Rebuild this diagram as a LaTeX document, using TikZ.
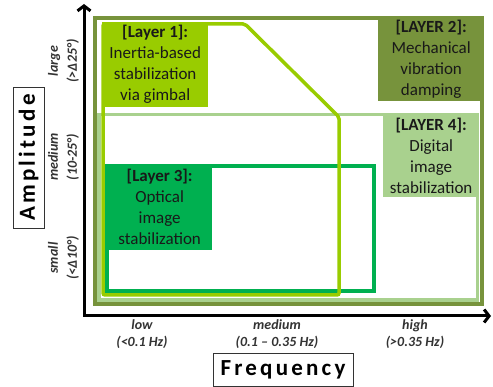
\documentclass[tikz,border=0pt]{standalone}
\usepackage{fontspec}
\setmainfont{Carlito}
\usetikzlibrary{arrows.meta}
\definecolor{lone}{HTML}{99CC00}
\definecolor{ltwo}{HTML}{77933C}
\definecolor{lthree}{HTML}{00B050}
\definecolor{lfour}{HTML}{A9D18E}
\begin{document}
\begin{tikzpicture}[x=1pt,y=-1pt,
  lbl/.style={anchor=north west, inner sep=0pt, align=center, font=\fontsize{17}{21}\selectfont, text=black!90},
  outl/.style={line width=3.5pt, line join=miter},
  axlbl/.style={align=center, inner sep=0pt, font=\bfseries\itshape\fontsize{14}{17}\selectfont, text=black!80},
  vlbl/.style={axlbl, rotate=90, font=\bfseries\itshape\fontsize{14}{19}\selectfont},
  titlebox/.style={draw=black!80, line width=0.8pt, fill=white, inner sep=0pt, font=\bfseries\fontsize{23}{26}\selectfont, text=black}]
\useasboundingbox (0,0) rectangle (493,387);
% outlines
\draw[outl, ltwo] (95,18) rectangle (482,304);
\draw[outl, lfour] (99,114.5) rectangle (477.5,300);
\draw[outl, lthree] (107,166) rectangle (374,291);
\draw[outl, lone, rounded corners=2pt] (103,24) -- (245,24) -- (339,117) -- (339,295) -- (103,295) -- cycle;
% label boxes
\node[lbl, fill=lone, minimum width=106pt, minimum height=85pt] (l1) at (102,22)
  {\textbf{[Layer 1]:}\\Inertia-based\\stabilization\\via gimbal};
\node[lbl, fill=ltwo, minimum width=106pt, minimum height=83pt] (l2) at (378,18)
  {\textbf{[LAYER 2]:}\\Mechanical\\vibration\\damping};
\node[lbl, fill=lfour, minimum width=96pt, minimum height=82pt] (l4) at (383,115)
  {\textbf{[LAYER 4]:}\\Digital\\image\\stabilization};
\node[lbl, fill=lthree, minimum width=105pt, minimum height=86pt] (l3) at (107,164)
  {\textbf{[Layer 3]:}\\Optical\\image\\stabilization};
% axes
\coordinate (o) at (84,316);
\coordinate (ytip) at (84,4);
\coordinate (xtip) at (491,316);
\draw[line width=3pt, {Straight Barb[length=5pt,width=13pt]}-{Straight Barb[length=5pt,width=13pt]}] (ytip) -- (o) -- (xtip);
% axis labels
\node[axlbl] (xlow) at (142,334.5) {low\\(<0.1 Hz)};
\node[axlbl] (xmed) at (277,334.5) {medium\\(0.1 – 0.35 Hz)};
\node[axlbl] (xhigh) at (415,334.5) {high\\(>0.35 Hz)};
\node[vlbl] (ylarge) at (63.5,61) {large\\(>Δ25°)};
\node[vlbl] (ymed) at (63.5,157) {medium\\(10-25°)};
\node[vlbl] (ysmall) at (63.5,258) {small\\(<Δ10°)};
% titles
\node[titlebox, minimum width=140pt, minimum height=33pt] (freq) at (283,369.5) {\addfontfeature{LetterSpace=14}Frequency};
\node[titlebox, rotate=90, minimum width=141pt, minimum height=31pt] (amp) at (28.5,157.5) {\addfontfeature{LetterSpace=14}Amplitude};
\end{tikzpicture}
\end{document}
